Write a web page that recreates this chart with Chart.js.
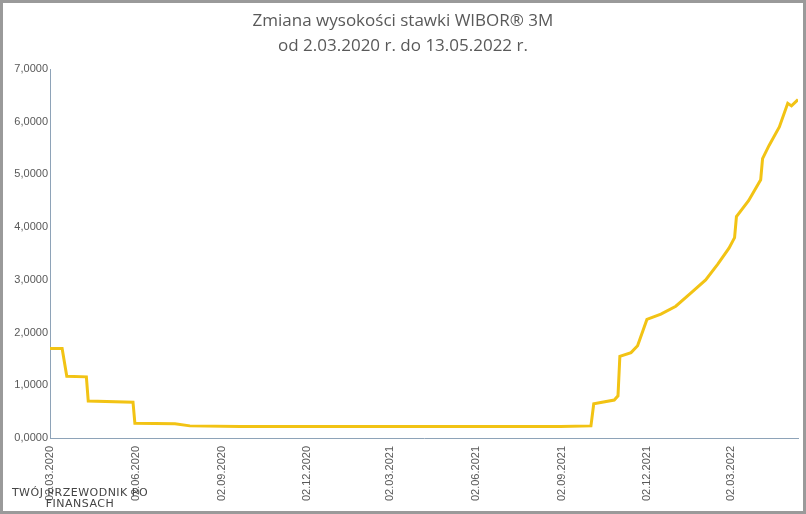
<!DOCTYPE html>
<html>
<head>
<meta charset="utf-8">
<script src="https://cdn.jsdelivr.net/npm/chart.js@4"></script>
<style>
  html, body { margin: 0; padding: 0; background: #fff; }
  #wrap { position: relative; width: 806px; height: 514px; box-sizing: border-box; border: 3px solid #9a9a9a; }
  #title { position: absolute; top: 4px; left: 0; width: 100%; text-align: center; font-family: "Open Sans", "Liberation Sans", sans-serif; font-size: 17px; line-height: 25px; color: #595959; }
  #logo { position: absolute; left: 2px; bottom: 2px; font-family: "DejaVu Sans", sans-serif; font-size: 11px; line-height: 11px; color: #444; text-align: center; width: 150px; letter-spacing: 0.5px; }
  canvas { position: absolute; left: -3px; top: -3px; }
</style>
</head>
<body>
<div id="wrap">
  <canvas id="chart" width="806" height="514"></canvas>
  <div id="title">Zmiana wysokości stawki WIBOR® 3M<br>od 2.03.2020 r. do 13.05.2022 r.</div>
  <div id="logo">TWÓJ PRZEWODNIK PO<br>FINANSACH</div>
</div>
<script>
// WIBOR 3M values
var dates = ['02.03.2020', '15.03.2020', '20.03.2020', '10.04.2020', '12.04.2020', '30.05.2020', '01.06.2020',
    '14.07.2020', '30.07.2020', '22.09.2020', '31.08.2021', '03.10.2021', '06.10.2021', '28.10.2021', '01.11.2021',
    '03.11.2021', '15.11.2021', '22.11.2021', '28.11.2021', '02.12.2021', '17.12.2021', '02.01.2022', '18.01.2022',
    '03.02.2022', '16.02.2022', '28.02.2022', '06.03.2022', '08.03.2022', '21.03.2022', '03.04.2022', '05.04.2022',
    '12.04.2022', '23.04.2022', '02.05.2022', '06.05.2022', '13.05.2022'];
var values = [1.70, 1.70, 1.17, 1.16, 0.70, 0.68, 0.28,
    0.27, 0.23, 0.22, 0.22, 0.23, 0.65, 0.72, 0.80,
    1.55, 1.62, 1.75, 2.05, 2.25, 2.35, 2.50, 2.75,
    3.00, 3.30, 3.60, 3.80, 4.20, 4.50, 4.90, 5.30,
    5.55, 5.90, 6.35, 6.30, 6.42];
var tickDates = ['02.03.2020', '02.06.2020', '02.09.2020', '02.12.2020', '02.03.2021', '02.06.2021', '02.09.2021', '02.12.2021', '02.03.2022'];
var yTicks = [0, 1, 2, 3, 4, 5, 6, 7];

function toDay(s) {
    var p = s.split('.');
    return Date.UTC(+p[2], +p[1] - 1, +p[0]) / 86400000;
}
var start = toDay(dates[0]);
var points = dates.map(function (d, i) { return { x: toDay(d) - start, y: values[i] }; });
var tickDays = tickDates.map(function (d) { return toDay(d) - start; });

var ctx = document.getElementById('chart').getContext('2d');
var chart = new Chart(ctx, {
    type: 'line',
    data: {
        datasets: [{
            data: points,
            borderColor: '#f2c314',
            borderWidth: 3,
            pointRadius: 0,
            tension: 0,
        }],
    },
    options: {
        responsive: false,
        animation: false,
        layout: { padding: { top: 69, right: 8, left: 0, bottom: 0 } },
        plugins: { legend: { display: false }, tooltip: { enabled: false } },
        scales: {
            x: {
                type: 'linear',
                min: 0,
                max: toDay('13.05.2022') - start,
                afterBuildTicks: function (s) { s.ticks = tickDays.map(function (v) { return { value: v }; }); },
                afterFit: function (s) { s.height = 76; },
                grid: { display: false, drawTicks: true, tickColor: '#8ea3b8', tickLength: 5 },
                border: { color: '#8ea3b8' },
                ticks: {
                    minRotation: 90, maxRotation: 90,
                    color: '#595959',
                    font: { family: 'Liberation Sans', size: 11 },
                    callback: function (v) { var i = tickDays.indexOf(v); return i < 0 ? '' : tickDates[i]; },
                },
            },
            y: {
                min: 0, max: 7,
                afterBuildTicks: function (s) { s.ticks = yTicks.map(function (v) { return { value: v }; }); },
                afterFit: function (s) { s.width = 50; },
                grid: { display: false, drawTicks: false },
                border: { color: '#8ea3b8' },
                ticks: {
                    color: '#595959', padding: 2,
                    font: { family: 'Liberation Sans', size: 11 },
                    callback: function (v) { return v.toFixed(4).replace('.', ','); },
                },
            },
        },
    },
});
</script>
</body>
</html>
